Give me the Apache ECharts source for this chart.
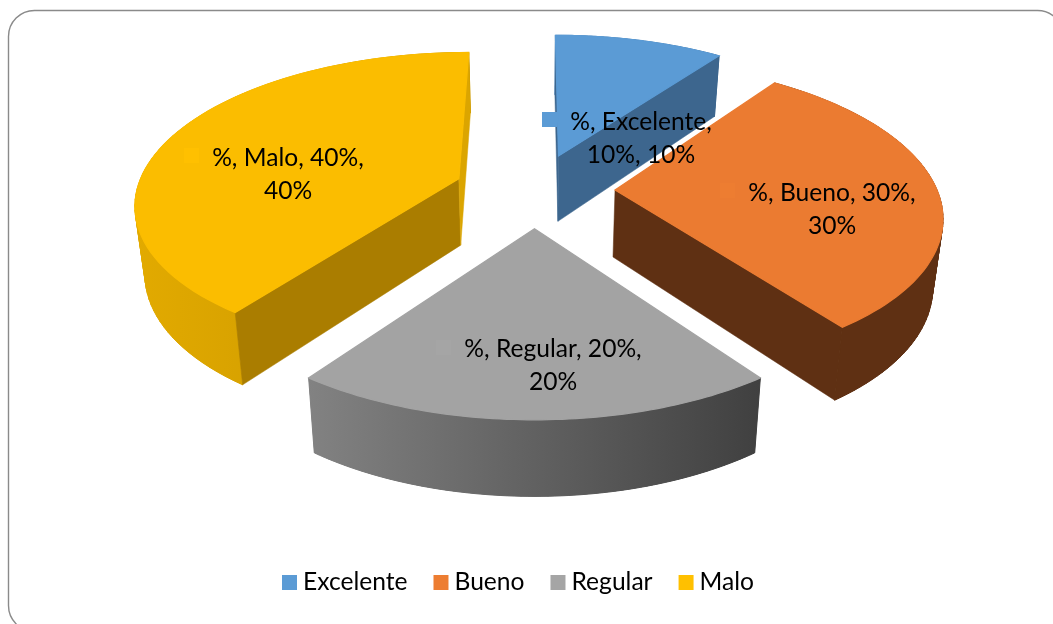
<!DOCTYPE html>
<html><head><meta charset="utf-8">
<style>html,body{margin:0;padding:0;background:#fff}#c{width:1053px;height:624px}</style>
<script src="https://cdn.jsdelivr.net/npm/echarts@6/dist/echarts.min.js"></script>
</head><body><div id="c"></div>
<script>
const categories = ['Excelente', 'Bueno', 'Regular', 'Malo'];
const percents = [10, 30, 20, 40];
const legendColors = ['#5B9BD5', '#ED7D31', '#A5A5A5', '#FFC000'];
const topColors = ['#5B9BD5', '#EB7B31', '#A3A3A3', '#FBBD00'];
const startCutColors = ['#3D668E', '#5F3013', '#6C6C6C', '#AA7D00'];
const endCutColors = ['#3D668E', '#5F3013', '#6C6C6C', '#DBA500'];
const curveStops = [
  ['#5B8FC0', '#3D668E'],
  ['#5F3013', '#5F3013'],
  ['#828282', '#404040'],
  ['#E2AA00', '#C49300']
];

// Projection of the tilted disc
const cx = 534.5, cy = 190, RX = 322, SY = 148.7, PERSP = 0.153, EXPLODE = 0.25;
const DEPTH = 67, DEPTH_P = 0.1, SHRINK = 0.975;
function project(u, v, lower) {
  const d = 1 + PERSP * v;
  const x = RX * u / d, y = -SY * v / d;
  if (!lower) return [cx + x, cy + y];
  return [cx + x * SHRINK, cy + y + DEPTH / (1 + DEPTH_P * v)];
}
const total = percents.reduce((a, b) => a + b, 0);
const starts = percents.map((_, i) => percents.slice(0, i).reduce((a, b) => a + b, 0));

function renderSlice(idx) {
  const a0 = starts[idx] / total * Math.PI * 2;
  const a1 = (starts[idx] + percents[idx]) / total * Math.PI * 2;
  const mid = (a0 + a1) / 2;
  const ou = EXPLODE * Math.sin(mid), ov = EXPLODE * Math.cos(mid);
  const apex = project(ou, ov), apexL = project(ou, ov, true);
  const N = 72, rim = [], rimL = [];
  for (let k = 0; k <= N; k++) {
    const a = a0 + (a1 - a0) * k / N;
    rim.push(project(ou + Math.sin(a), ov + Math.cos(a)));
    rimL.push(project(ou + Math.sin(a), ov + Math.cos(a), true));
  }
  const midRim = rim[N / 2];
  // A cut face shows only when the extrusion falls outside the top face
  const faces = (edge) => {
    const ex = edge[0] - apex[0], ey = edge[1] - apex[1];
    const toMid = ex * (midRim[1] - apex[1]) - ey * (midRim[0] - apex[0]);
    return ex * toMid < 0;
  };
  const wall = (p, c) => ({ type: 'polygon', shape: { points: p }, style: { fill: c, stroke: c, lineWidth: 0.5 } });
  const xs = rim.concat(rimL).map(p => p[0]);
  const gx0 = Math.min.apply(null, xs), gx1 = Math.max.apply(null, xs);
  const grad = () => ({ type: 'linear', x: gx0, y: 0, x2: gx1, y2: 0, global: true,
    colorStops: [{ offset: 0, color: curveStops[idx][0] }, { offset: 1, color: curveStops[idx][1] }] });
  const children = [{ type: 'polygon', shape: { points: rim.concat(rimL.slice().reverse()) }, style: { fill: grad() } }];
  for (let k = 0; k < N; k++) {
    children.push({ type: 'polygon', shape: { points: [rim[k], rim[k + 1], rimL[k + 1], rimL[k]] },
      style: { fill: grad(), stroke: grad(), lineWidth: 1 } });
  }
  if (faces(rim[0])) children.push(wall([apex, rim[0], rimL[0], apexL], startCutColors[idx]));
  if (faces(rim[N])) children.push(wall([apex, rim[N], rimL[N], apexL], endCutColors[idx]));
  children.push({ type: 'polygon', shape: { points: [apex].concat(rim) }, style: { fill: topColors[idx], stroke: topColors[idx], lineWidth: 1.2 } });
  return { type: 'group', children };
}
// Data labels are drawn in a top layer so they overlap every slice
const labelPos = [[641, 139], [832, 210], [553, 366], [288, 175]];
const keyPos = [[542, 112], [720, 183], [436, 340], [184, 148]];
const textFont = 'Lato, Carlito, Calibri, sans-serif';
function labelText(i) {
  const p = percents[i] + '%';
  return i === 0 ? '%, ' + categories[i] + ',\n' + p + ', ' + p
    : '%, ' + categories[i] + ', ' + p + ',\n' + p;
}

const sliceSeries = categories.map((name, i) => ({
  name, type: 'custom', coordinateSystem: 'none', silent: true,
  itemStyle: { color: legendColors[i] },
  data: [percents[i]],
  renderItem: () => renderSlice(i),
  z: 2
}));
const labelSeries = {
  type: 'custom', coordinateSystem: 'none', silent: true, z: 5,
  data: percents,
  renderItem: (p) => {
    const i = p.dataIndex, L = labelPos[i], K = keyPos[i];
    return { type: 'group', children: [
      { type: 'rect', shape: { x: K[0], y: K[1], width: 15, height: 15 }, style: { fill: legendColors[i] } },
      { type: 'text', style: { x: L[0], y: L[1], text: labelText(i), align: 'center', verticalAlign: 'middle',
        font: '24.6px ' + textFont, lineHeight: 33, fill: '#000' } }
    ]};
  }
};

const chart = echarts.init(document.getElementById('c'), null, { renderer: 'canvas' });
chart.setOption({
  animation: false,
  backgroundColor: '#fff',
  graphic: [{ type: 'rect', z: 0, shape: { x: 8.5, y: 10.5, width: 1055, height: 621, r: 26 },
    style: { fill: 'none', stroke: '#8A8A8A', lineWidth: 1.4 } }],
  legend: {
    data: categories, top: 565, left: 277, itemWidth: 15, itemHeight: 15, itemGap: 26,
    icon: 'rect', selectedMode: false,
    textStyle: { fontFamily: textFont, fontSize: 24.6, color: '#000', padding: [0, 0, 0, 1] }
  },
  series: sliceSeries.concat([labelSeries])
});
</script></body></html>
